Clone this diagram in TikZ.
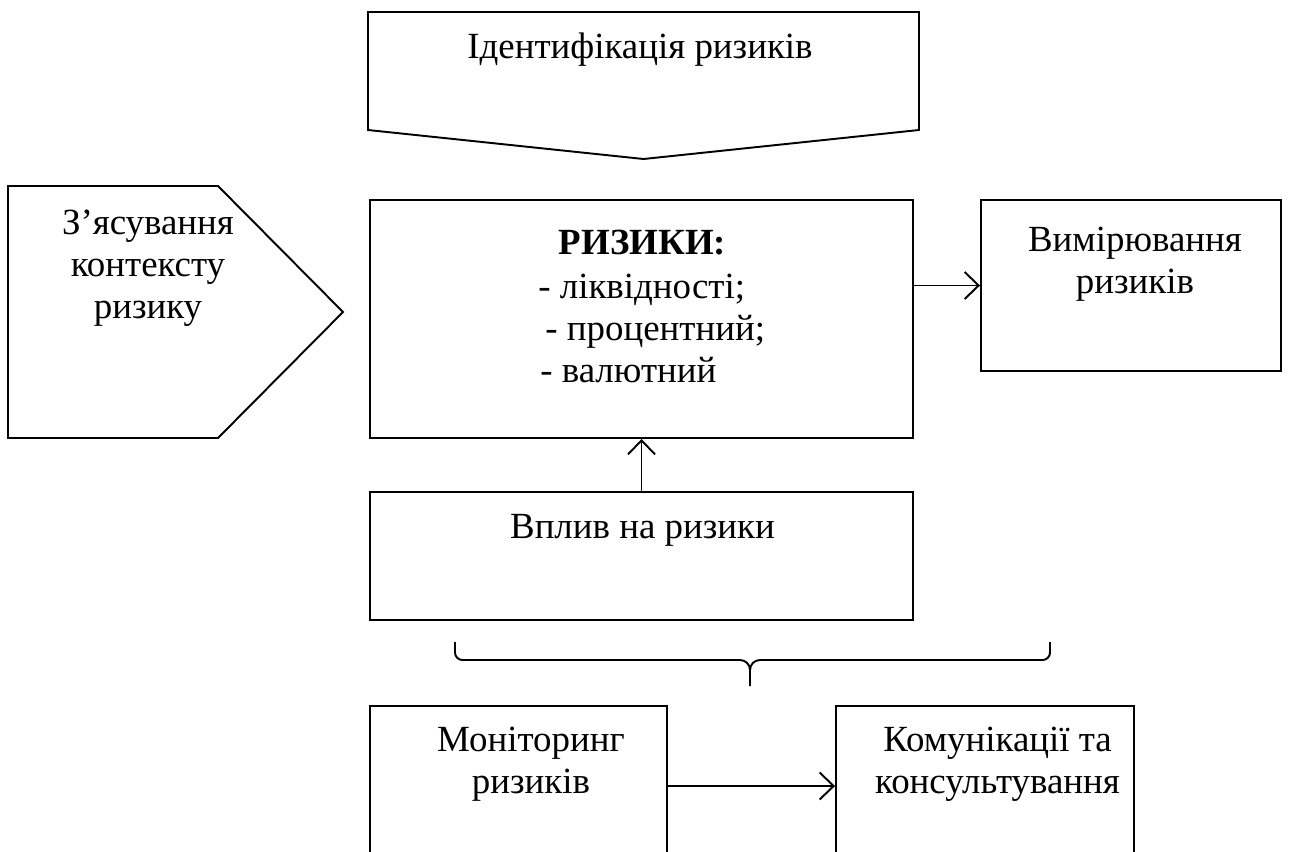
\documentclass[tikz,border=0pt]{standalone}
\usepackage{fontspec}
\setmainfont{Liberation Serif}
\usetikzlibrary{positioning,arrows.meta}
\tikzset{
  blk/.style={draw, line width=1.1pt, inner sep=0pt},
  txt/.style={align=center, inner sep=0pt, font=\fontsize{21}{24}\selectfont},
  arr/.style={-{Straight Barb[length=2.8mm,width=5.4mm]}, line width=1.1pt}
}
\begin{document}
\begin{tikzpicture}
\useasboundingbox (0,0) rectangle (26.02,-17.02);

% top arrow box
\draw[line width=1.1pt] (7.36,-0.24) -- (18.38,-0.24) -- (18.38,-2.6) -- (12.87,-3.18) -- (7.36,-2.6) -- cycle;
\node[txt] (ident) at (12.8,-1.0) {Ідентифікація ризиків};

% left pentagon
\draw[line width=1.1pt] (0.16,-3.72) -- (4.36,-3.72) -- (6.86,-6.24) -- (4.36,-8.76) -- (0.16,-8.76) -- cycle;
\node[txt] (context) at (2.96,-5.36) {З’ясування\\контексту\\ризику};

% boxes
\node[blk, minimum width=10.86cm, minimum height=4.76cm] (risks) at (12.83,-6.38) {};
\node[txt, font=\fontsize{21}{24}\selectfont\bfseries] (risktitle) at (12.85,-4.86) {РИЗИКИ:};
\node[txt, anchor=base west] (liq) at (10.76,-5.96) {- ліквідності;};
\node[txt, anchor=base west] (rate) at (10.9,-6.80) {- процентний;};
\node[txt, anchor=base west] (fx) at (10.8,-7.65) {- валютний};

\node[blk, minimum width=6cm, minimum height=3.42cm] (measure) at (22.62,-5.71) {};
\node[txt] (measuretxt) at (22.7,-5.28) {Вимірювання\\ризиків};

\node[blk, minimum width=10.86cm, minimum height=2.56cm] (impact) at (12.83,-11.12) {};
\node[txt] (impacttxt) at (12.85,-10.6) {Вплив на ризики};

\node[blk, minimum width=5.94cm, minimum height=3.2cm] (monitor) at (10.37,-15.72) {};
\node[txt] (monitortxt) at (10.62,-15.28) {Моніторинг\\ризиків};

\node[blk, minimum width=5.96cm, minimum height=3.2cm] (comm) at (19.7,-15.72) {};
\node[txt] (commtxt) at (19.95,-15.28) {Комунікації та\\консультування};

% connectors
\draw[arr] (risks.east |- measure.west) -- (measure.west);
\draw[arr] (impact.north) -- (risks.south);
\draw[arr] (monitor.east) -- (comm.west);

% brace
\draw[line width=1.1pt] (9.1,-12.84) -- (9.1,-13.05) to[out=-90,in=180] (9.25,-13.2) -- (14.8,-13.2) to[out=0,in=90] (15,-13.4) -- (15,-13.72);
\draw[line width=1.1pt] (21.0,-12.84) -- (21.0,-13.05) to[out=-90,in=0] (20.85,-13.2) -- (15.2,-13.2) to[out=180,in=90] (15,-13.4);
\end{tikzpicture}
\end{document}
